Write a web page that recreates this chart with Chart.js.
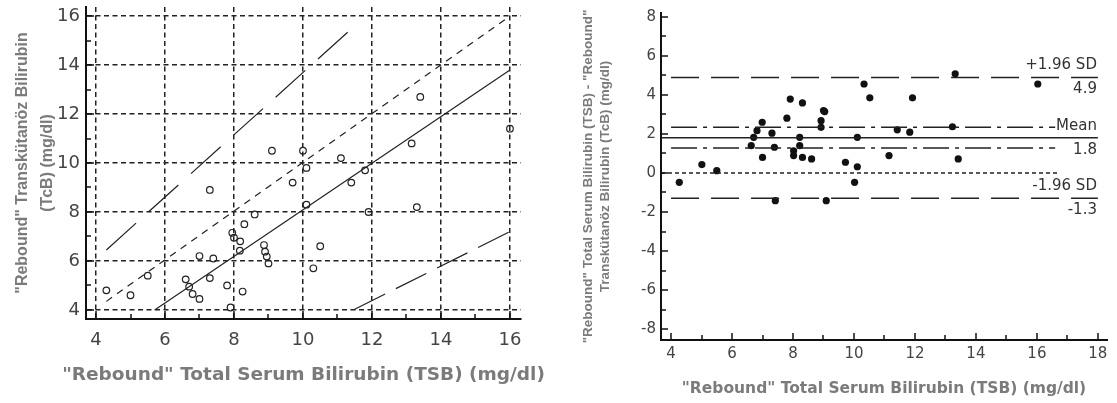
<!DOCTYPE html>
<html><head><meta charset="utf-8">
<script src="https://cdn.jsdelivr.net/npm/chart.js@4.4.1/dist/chart.umd.min.js"></script>
<style>
html,body{margin:0;padding:0;background:#fff;width:1117px;height:403px;overflow:hidden}
#c1{position:absolute;left:0;top:0}
#c2{position:absolute;left:560px;top:0}
</style></head><body>
<canvas id="c1" width="560" height="403"></canvas>
<canvas id="c2" width="557" height="403"></canvas>
<script>
// ---------- Left chart: TcB vs TSB ----------
const tsbLeft = [4.3,5.0,5.5,6.6,6.7,6.8,7.0,7.0,7.4,7.3,7.8,7.9,8.25,7.95,8.0,8.18,8.17,8.3,8.6,8.87,8.9,8.95,9.0,7.3,9.1,10.0,10.1,9.7,11.1,11.4,11.8,10.1,11.9,10.5,10.3,13.3,13.4,13.15,16.0];
const tcbLeft = [4.8,4.6,5.4,5.25,4.95,4.65,4.45,6.2,6.1,5.3,5.0,4.1,4.75,7.15,6.95,6.8,6.42,7.5,7.9,6.65,6.38,6.18,5.9,8.9,10.5,10.5,9.8,9.2,10.2,9.2,9.7,8.3,8.0,6.6,5.7,8.2,12.7,10.8,11.4];
const identityX = [4.3, 16.0];
const identityY = [4.35, 16.0];
const regressionX = [5.7, 16.0];
const regressionY = [4.0, 13.8];
const upperLimitX = [4.3, 11.5];
const upperLimitY = [6.45, 15.6];
const lowerLimitX = [11.5, 16.0];
const lowerLimitY = [4.03, 7.2];
const leftXTicks = [4,6,8,10,12,14,16];
const leftYTicks = [4,6,8,10,12,14,16];
const leftMinorTicks = [5,7,9,11,13,15];
const leftXTitle = '"Rebound" Total Serum Bilirubin (TSB) (mg/dl)';

// ---------- Right chart: Bland-Altman ----------
const tsbRight = [4.27,5.01,5.5,6.63,6.71,6.82,6.99,7.0,7.31,7.39,7.42,7.8,7.91,8.02,8.02,8.22,8.22,8.31,8.31,8.61,8.92,8.92,9.04,9.0,9.09,9.72,10.02,10.11,10.11,10.33,10.52,11.15,11.42,11.83,11.92,13.23,13.32,13.42,16.03];
const diffRight = [-0.48,0.43,0.12,1.4,1.83,2.17,2.6,0.8,2.04,1.32,-1.42,2.81,3.79,1.14,0.89,1.83,1.4,3.59,0.8,0.72,2.68,2.34,3.15,3.2,-1.42,0.55,-0.48,0.32,1.83,4.56,3.85,0.89,2.21,2.09,3.85,2.37,5.08,0.72,4.56];
const upperSD = 4.9;
const meanDiff = 1.8;
const lowerSD = -1.3;
const meanCIUpper = 2.35;
const meanCILower = 1.28;
const sdLineX = [4, 18];
const meanLineX = [3.67, 18];
const ciLineX = [4, 16.6];
const zeroLineX = [3.67, 16.7];
const rightXTicks = [4,6,8,10,12,14,16,18];
const rightYTicks = [-8,-6,-4,-2,0,2,4,6,8];
const rightXMinor = [5,7,9,11,13,15,17];
const rightYMinor = [-7,-5,-3,-1,1,3,5,7];

const pts = (xs, ys) => xs.map((x,i)=>({x, y: ys[i]}));
const hline = (xs, v) => xs.map(x=>({x, y: v}));

const innerTicks = {
  id: 'innerTicks',
  afterDatasetsDraw(chart, args, o) {
    const {ctx} = chart, xs = chart.scales.x, ys = chart.scales.y;
    ctx.save();
    ctx.strokeStyle = '#111'; ctx.lineWidth = 1.5; ctx.setLineDash([]);
    const seg = (x1,y1,x2,y2)=>{ctx.beginPath();ctx.moveTo(x1,y1);ctx.lineTo(x2,y2);ctx.stroke();};
    o.xMajor.forEach(v=>{const p=Math.round(xs.getPixelForValue(v)); seg(p, ys.bottom, p, ys.bottom-o.major);});
    o.xMinor.forEach(v=>{const p=Math.round(xs.getPixelForValue(v)); seg(p, ys.bottom, p, ys.bottom-o.minor);});
    o.yMajor.forEach(v=>{const p=Math.round(ys.getPixelForValue(v)); seg(xs.left, p, xs.left+o.major, p);});
    o.yMinor.forEach(v=>{const p=Math.round(ys.getPixelForValue(v)); seg(xs.left, p, xs.left+o.minor, p);});
    ctx.restore();
  }
};

const baLabels = {
  id: 'baLabels',
  afterDatasetsDraw(chart, args, o) {
    if (!o.items) return;
    const {ctx} = chart, xs = chart.scales.x, ys = chart.scales.y;
    ctx.save();
    ctx.font = '15px "DejaVu Sans", sans-serif';
    ctx.fillStyle = '#333';
    ctx.textAlign = 'right'; ctx.textBaseline = 'middle';
    const xr = xs.getPixelForValue(o.xRight);
    o.items.forEach(it=>{
      const p = ys.getPixelForValue(it.value);
      ctx.fillText(it.above, xr, p - 12);
      ctx.fillText(it.value.toFixed(1), xr, p + 12);
    });
    ctx.restore();
  }
};

// x-axis title drawn without Chart.js's maxWidth squeeze
const freeXTitle = {
  id: 'freeXTitle',
  afterDraw(chart, args, o) {
    if (!o.text) return;
    const {ctx} = chart, xs = chart.scales.x;
    ctx.save();
    ctx.font = o.font; ctx.fillStyle = o.color;
    ctx.textAlign = 'center'; ctx.textBaseline = 'middle';
    ctx.fillText(o.text, (xs.left + xs.right) / 2, o.y);
    ctx.restore();
  }
};

const gray = '#7b7b7b';
const wide = '"DejaVu Sans", sans-serif';
const fam = '"Liberation Sans", Arial, sans-serif';
const noPadY = s => { s.paddingTop = 0; s.paddingBottom = 0; };
const noPadX = s => { s.paddingLeft = 0; s.paddingRight = 0; };

// ---------- Left chart ----------
new Chart(document.getElementById('c1'), {
  type: 'scatter',
  data: { datasets: [
    { data: pts(tsbLeft, tcbLeft), pointStyle: 'circle', pointRadius: 3.3, pointBorderWidth: 1.2,
      borderColor: '#222', backgroundColor: 'rgba(255,255,255,0)' },
    { type: 'line', data: pts(regressionX, regressionY), borderColor: '#222', borderWidth: 1.2, pointRadius: 0 },
    { type: 'line', data: pts(identityX, identityY), borderColor: '#222', borderWidth: 1.2, borderDash: [7,6], pointRadius: 0 },
    { type: 'line', data: pts(upperLimitX, upperLimitY), borderColor: '#222', borderWidth: 1.2, borderDash: [40,17], pointRadius: 0 },
    { type: 'line', data: pts(lowerLimitX, lowerLimitY), borderColor: '#222', borderWidth: 1.2, borderDash: [34,12], pointRadius: 0 }
  ]},
  options: {
    responsive: false, animation: false,
    layout: { padding: { top: 7, right: 39, left: 0, bottom: 0 } },
    plugins: { legend: { display: false }, tooltip: { enabled: false },
      innerTicks: { xMajor: leftXTicks, xMinor: leftMinorTicks, yMajor: leftYTicks, yMinor: leftMinorTicks, major: 8, minor: 5 },
      baLabels: {},
      freeXTitle: { text: leftXTitle, font: 'bold 18.5px "DejaVu Sans", sans-serif', color: gray, y: 375 } },
    scales: {
      x: { type: 'linear', min: 3.71, max: 16.32,
        afterBuildTicks: s => { s.ticks = leftXTicks.map(v=>({value: v})); },
        afterFit: s => { s.height = 84; noPadX(s); },
        grid: { color: '#222', lineWidth: 1.5, drawTicks: false },
        border: { display: true, color: '#111', width: 2, dash: [5,3.5] },
        ticks: { color: '#444', font: { size: 18, family: wide }, padding: 11 },
        title: { display: false } },
      y: { type: 'linear', min: 3.63, max: 16.37,
        afterBuildTicks: s => { s.ticks = leftYTicks.map(v=>({value: v})); },
        afterFit: s => { s.width = 86; noPadY(s); },
        grid: { color: '#222', lineWidth: 1.5, drawTicks: false },
        border: { display: true, color: '#111', width: 2, dash: [5,3.5] },
        ticks: { color: '#444', font: { size: 18, family: wide }, padding: 6 },
        title: { display: true, text: ['"Rebound" Transkütanöz Bilirubin', '(TcB) (mg/dl)'], color: gray,
          font: { size: 16, weight: 'bold', family: fam, lineHeight: '25px' }, padding: { top: 10, bottom: 0 } } }
    }
  },
  plugins: [innerTicks, baLabels, freeXTitle]
});

// ---------- Right chart ----------
new Chart(document.getElementById('c2'), {
  type: 'scatter',
  data: { datasets: [
    { type: 'line', data: hline(sdLineX, upperSD), borderColor: '#222', borderWidth: 1.5, borderDash: [28,12], pointRadius: 0 },
    { type: 'line', data: hline(meanLineX, meanDiff), borderColor: '#222', borderWidth: 1.5, pointRadius: 0 },
    { type: 'line', data: hline(ciLineX, meanCIUpper), borderColor: '#222', borderWidth: 1.5, borderDash: [26,6,4,6], pointRadius: 0 },
    { type: 'line', data: hline(ciLineX, meanCILower), borderColor: '#222', borderWidth: 1.5, borderDash: [26,6,4,6], pointRadius: 0 },
    { type: 'line', data: hline(zeroLineX, 0), borderColor: '#222', borderWidth: 1.5, borderDash: [4,3], pointRadius: 0 },
    { type: 'line', data: hline(sdLineX, lowerSD), borderColor: '#222', borderWidth: 1.5, borderDash: [28,12], pointRadius: 0 },
    { data: pts(tsbRight, diffRight), pointStyle: 'circle', pointRadius: 3.6, pointBorderWidth: 0,
      backgroundColor: '#111', borderColor: '#111' }
  ]},
  options: {
    responsive: false, animation: false,
    layout: { padding: { top: 13, right: 10, left: 0, bottom: 0 } },
    plugins: { legend: { display: false }, tooltip: { enabled: false },
      innerTicks: { xMajor: rightXTicks, xMinor: rightXMinor, yMajor: rightYTicks, yMinor: rightYMinor, major: 7, minor: 5 },
      baLabels: { xRight: 17.97, items: [
        { value: upperSD, above: '+1.96 SD' },
        { value: meanDiff, above: 'Mean' },
        { value: lowerSD, above: '-1.96 SD' } ] },
      freeXTitle: {} },
    scales: {
      x: { type: 'linear', min: 3.67, max: 18.3,
        afterBuildTicks: s => { s.ticks = rightXTicks.map(v=>({value: v})); },
        afterFit: s => { s.height = 63; noPadX(s); },
        grid: { display: true, drawOnChartArea: false, drawTicks: false },
        border: { display: true, color: '#111', width: 2 },
        ticks: { color: '#444', font: { size: 15, family: wide }, padding: 5 },
        title: { display: true, text: '"Rebound" Total Serum Bilirubin (TSB) (mg/dl)', color: gray,
          font: { size: 15.5, weight: 'bold', family: wide }, padding: { top: 0, bottom: 5 } } },
      y: { type: 'linear', min: -8.56, max: 8.2,
        afterBuildTicks: s => { s.ticks = rightYTicks.map(v=>({value: v})); },
        afterFit: s => { s.width = 101; noPadY(s); },
        grid: { display: true, drawOnChartArea: false, drawTicks: false },
        border: { display: true, color: '#111', width: 2 },
        ticks: { color: '#444', font: { size: 15, family: wide }, padding: 5 },
        title: { display: true, text: ['"Rebound" Total Serum Bilirubin (TSB) - "Rebound"', 'Transkütanöz Bilirubin (TcB) (mg/dl)'], color: gray,
          font: { size: 13.5, weight: 'bold', family: fam, lineHeight: '17px' },
          padding: { top: 20, bottom: 0 } } }
    }
  },
  plugins: [innerTicks, baLabels, freeXTitle]
});
</script>
</body></html>
